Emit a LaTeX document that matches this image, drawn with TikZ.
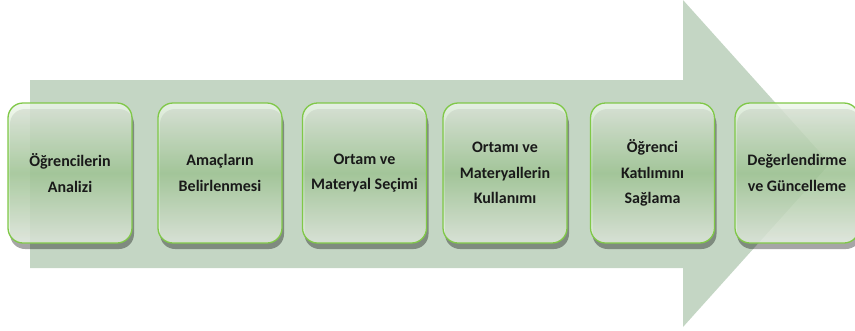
\documentclass[tikz,border=0pt]{standalone}
\usepackage{fontspec}
\setmainfont{Carlito}
\usetikzlibrary{shadows}
\definecolor{arrowgreen}{RGB}{196,214,196}
\definecolor{boxborder}{RGB}{128,200,72}
\definecolor{boxmid}{RGB}{172,212,160}
\definecolor{boxtop}{RGB}{238,246,235}
\definecolor{txt}{RGB}{25,25,25}
\tikzset{
  stepbox/.style={rectangle, rounded corners=15pt, minimum width=124pt, minimum height=140pt,
    draw=boxborder, line width=1.3pt, top color=boxtop, bottom color=boxtop, middle color=boxmid,
    fill opacity=0.8, draw opacity=1, text opacity=1,
    drop shadow={shadow xshift=2pt, shadow yshift=-6pt, opacity=0.35, fill=black},
    align=center, font=\bfseries\fontsize{16}{25.5}\selectfont, text=txt},
  bigarrow/.style={fill=arrowgreen, draw=none}
}
\begin{document}
\begin{tikzpicture}[x=1pt,y=-1pt]
\useasboundingbox (0,0) rectangle (855,330);
\clip (0,0) rectangle (855,330);
\fill[bigarrow] (30,80) -- (683,80) -- (683,0) -- (830,163.5) -- (683,327) -- (683,268) -- (30,268) -- cycle;
\node[stepbox] (b1) at (70,173) {Öğrencilerin\\Analizi};
\node[stepbox] (b2) at (220,173) {Amaçların\\Belirlenmesi};
\node[stepbox] (b3) at (364.5,173) {Ortam ve\\Materyal Seçimi};
\node[stepbox] (b4) at (505,173) {Ortamı ve\\Materyallerin\\Kullanımı};
\node[stepbox] (b5) at (652.5,173) {Öğrenci\\Katılımını\\Sağlama};
\node[stepbox] (b6) at (797,173) {Değerlendirme\\ve Güncelleme};
\end{tikzpicture}
\end{document}
